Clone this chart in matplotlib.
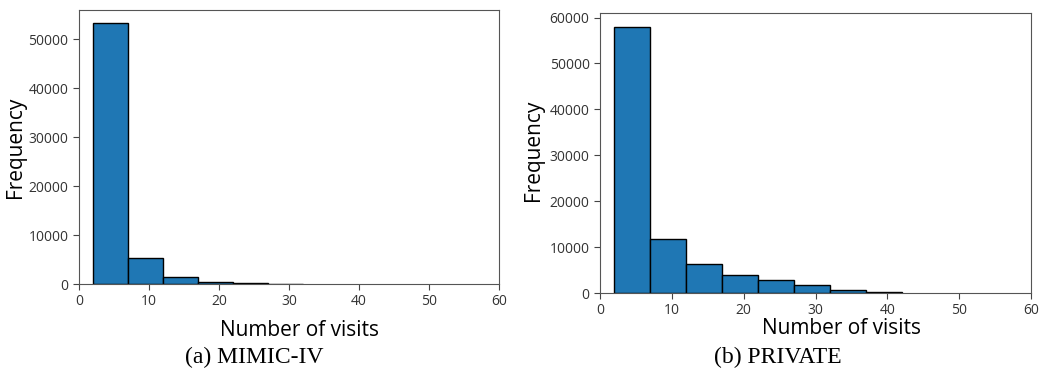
import numpy as np
from matplotlib import pyplot as plt

# histogram bins (number of visits) and counts per bin
mimic_edges = [2, 7, 12, 17, 22, 27, 32]
mimic_counts = [53300, 5300, 1400, 400, 120, 80]
private_edges = [2, 7, 12, 17, 22, 27, 32, 37, 42]
private_counts = [58000, 11700, 6400, 3900, 2800, 1700, 600, 300]

x_ticks = [0, 10, 20, 30, 40, 50, 60]
mimic_yticks = [0, 10000, 20000, 30000, 40000, 50000]
private_yticks = [0, 10000, 20000, 30000, 40000, 50000, 60000]

fig = plt.figure(figsize=(10.39, 3.8), dpi=100)
ax1 = fig.add_axes([0.076, 0.2526, 0.404, 0.7214])
ax2 = fig.add_axes([0.5775, 0.2289, 0.4148, 0.7369])


def draw(ax, edges, counts, yticks, ymax):
    ax.hist(edges[:-1], bins=edges, weights=counts,
            color='#1f77b4', edgecolor='black', linewidth=1)
    ax.set_xlim(0, 60)
    ax.set_ylim(0, ymax)
    ax.set_xticks(x_ticks)
    ax.set_yticks(yticks)
    ax.tick_params(labelsize=10, colors='#444444', length=4)
    for lab in ax.get_xticklabels() + ax.get_yticklabels():
        lab.set_family('Open Sans')
        lab.set_color('#333333')
    for s in ax.spines.values():
        s.set_color('#555555')


draw(ax1, mimic_edges, mimic_counts, mimic_yticks, 56000)
draw(ax2, private_edges, private_counts, private_yticks, 61000)

lab_font = dict(family='Open Sans', fontsize=15)
fig.text(16 / 1039, 1 - 147 / 380, 'Frequency', rotation=90, ha='center', va='center', **lab_font)
fig.text(533 / 1039, 1 - 150 / 380, 'Frequency', rotation=90, ha='center', va='center', **lab_font)
fig.text(299 / 1039, 1 - 331 / 380, 'Number of visits', ha='center', va='center', **lab_font)
fig.text(841 / 1039, 1 - 329 / 380, 'Number of visits', ha='center', va='center', **lab_font)

cap_font = dict(family='Liberation Serif', fontsize=17)
fig.text(254 / 1039, 1 - 357 / 380, '(a) MIMIC-IV', ha='center', va='center', **cap_font)
fig.text(778 / 1039, 1 - 357 / 380, '(b) PRIVATE', ha='center', va='center', **cap_font)

fig.savefig('out.png', dpi=100)
